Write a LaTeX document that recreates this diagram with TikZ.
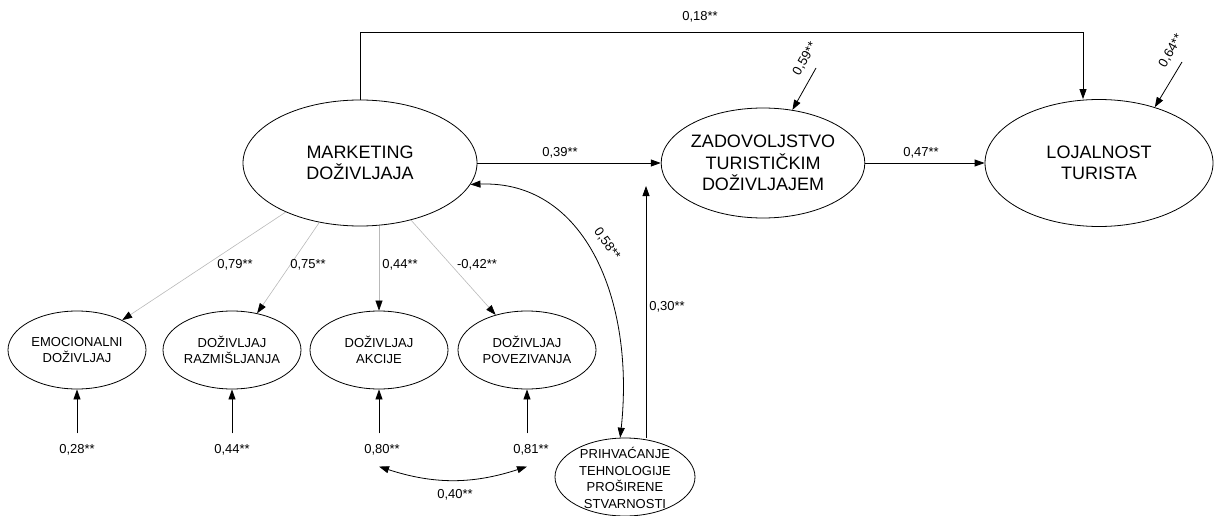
\documentclass[tikz,border=0pt]{standalone}
\usepackage{fontspec}
\setmainfont{Liberation Sans}
\usetikzlibrary{shapes.geometric,arrows.meta}

\begin{document}
\begin{tikzpicture}[x=1pt, y=-1pt,
    lat/.style={ellipse, draw, line width=0.8pt, inner sep=0pt, align=center, font=\fontsize{18}{21.5}\selectfont},
    obs/.style={ellipse, draw, line width=0.8pt, inner sep=0pt, minimum width=138pt, minimum height=78pt, align=center, font=\fontsize{13}{16.5}\selectfont},
    lab/.style={font=\fontsize{13}{16}\selectfont, inner sep=1pt},
    arr/.style={line width=0.8pt, -{Triangle[length=10pt,width=7pt]}},
    load/.style={line width=0.6pt, gray!55, -{Triangle[length=10pt,width=7pt,color=black]}},
    dbl/.style={line width=0.8pt, {Triangle[length=10pt,width=7pt]}-{Triangle[length=10pt,width=7pt]}}]

    \useasboundingbox (0,0) rectangle (1215,516);

    % Latent constructs
    \node[lat, minimum width=234pt, minimum height=126pt] (mark) at (360,163) {MARKETING\\DOŽIVLJAJA};
    \node[lat, minimum width=200pt, minimum height=110pt] (zad) at (763,163) {ZADOVOLJSTVO\\TURISTIČKIM\\DOŽIVLJAJEM};
    \node[lat, minimum width=228pt, minimum height=127pt] (loj) at (1099,163) {LOJALNOST\\TURISTA};

    % Dimensions of experience
    \node[obs] (emo) at (77,350) {EMOCIONALNI\\DOŽIVLJAJ};
    \node[obs] (raz) at (232,350) {DOŽIVLJAJ\\RAZMIŠLJANJA};
    \node[obs] (akc) at (379,350) {DOŽIVLJAJ\\AKCIJE};
    \node[obs] (pov) at (527,350) {DOŽIVLJAJ\\POVEZIVANJA};

    % Moderator (text runs over the ellipse)
    \node[obs, minimum width=140pt] (pri) at (625,477) {};
    \node[align=center, inner sep=0pt, font=\fontsize{13}{16.8}\selectfont] (pritext) at (625,478) {PRIHVAĆANJE\\TEHNOLOGIJE\\PROŠIRENE\\STVARNOSTI};

    % Structural paths
    \draw[arr] (mark.east) -- (zad.west);
    \node[lab] (l39) at (560,153) {0,39**};
    \draw[arr] (zad.east) -- (loj.west);
    \node[lab] (l47) at (921,153) {0,47**};

    \coordinate (topr) at (1083,32);
    \draw[arr] (mark.north) |- (topr) -- (topr |- loj.north);
    \node[lab] (l18) at (700,17) {0,18**};

    % Disturbances
    \coordinate (e59) at (816,68);
    \draw[arr] (e59) -- (zad.61);
    \node[lab, rotate=60] (l59) at (805,59) {0,59**};
    \coordinate (e64) at (1182,62);
    \draw[arr] (e64) -- (loj.45);
    \node[lab, rotate=60] (l64) at (1171,51) {0,64**};

    % Loadings
    \draw[load] (mark) -- (emo);
    \node[lab] (l79) at (235,265) {0,79**};
    \draw[load] (mark) -- (raz);
    \node[lab] (l75) at (308,265) {0,75**};
    \draw[load] (akc.north |- mark.south) -- (akc.north);
    \node[lab] (l44) at (400,265) {0,44**};
    \draw[load] (mark) -- (pov);
    \node[lab] (l42) at (477,265) {-0,42**};

    % Measurement errors
    \node[lab] (d28) at (77,450) {0,28**};
    \node[lab] (d44) at (232,450) {0,44**};
    \node[lab] (d80) at (382,450) {0,80**};
    \node[lab] (d81) at (531,450) {0,81**};
    \draw[arr] ([yshift=10pt]d28.north -| emo) -- (emo.south);
    \draw[arr] ([yshift=10pt]d44.north -| raz) -- (raz.south);
    \draw[arr] ([yshift=10pt]d80.north -| akc) -- (akc.south);
    \draw[arr] ([yshift=10pt]d81.north -| pov) -- (pov.south);
    \draw[dbl] ([yshift=-10pt]d80.south -| akc) to[bend right=18] ([yshift=-10pt]d81.south -| pov);
    \node[lab] (l40) at (455,495) {0,40**};

    % Moderation
    \draw[dbl] (mark.-11) .. controls (585,180) and (635,300) .. (pri.97);
    \node[lab, rotate=-54] (l58) at (607,244) {0,58**};
    \coordinate (m30) at (646,186);
    \draw[arr] (pri.north -| m30) -- (m30);
    \node[lab] (l30) at (667,307) {0,30**};

\end{tikzpicture}
\end{document}
